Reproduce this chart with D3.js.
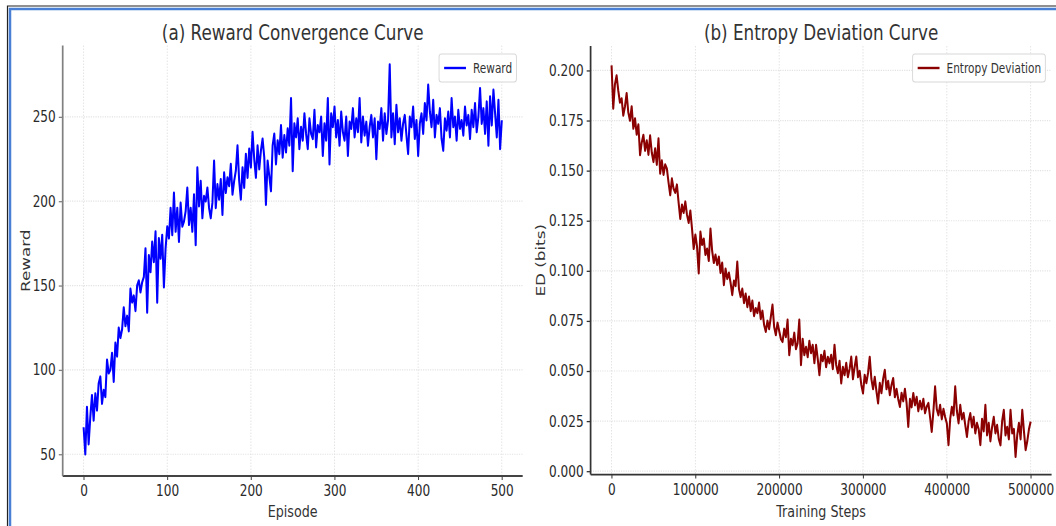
<!DOCTYPE html>
<html>
<head>
<meta charset="utf-8">
<script src="https://cdn.jsdelivr.net/npm/d3@7"></script>
<style>
  body { margin: 0; background: #fff; }
  svg { display: block; }
</style>
</head>
<body>
<div id="chart"></div>
<script>
const episodeStep = 2;
const rewardValues = [
    66, 50, 78, 56, 72, 85, 70, 86, 76, 92,
    96, 80, 88, 84, 106, 98, 100, 110, 93, 116,
    108, 125, 119, 124, 137, 126, 132, 123, 148, 140,
    144, 135, 150, 153, 146, 152, 155, 172, 134, 168,
    158, 176, 164, 182, 140, 178, 166, 180, 149, 172,
    185, 178, 196, 180, 205, 182, 196, 176, 199, 185,
    188, 194, 208, 186, 196, 182, 204, 174, 220, 197,
    212, 190, 203, 200, 208, 196, 190, 199, 224, 196,
    210, 201, 213, 192, 217, 205, 214, 209, 222, 204,
    212, 218, 233, 212, 201, 220, 208, 228, 214, 231,
    220, 241, 225, 214, 233, 219, 230, 237, 226, 198,
    224, 215, 206, 233, 240, 222, 236, 228, 245, 226,
    239, 229, 243, 233, 261, 218, 246, 238, 249, 231,
    244, 236, 252, 240, 231, 249, 240, 237, 254, 232,
    245, 241, 250, 227, 246, 236, 261, 222, 252, 244,
    256, 238, 248, 233, 253, 241, 236, 250, 227, 247,
    243, 255, 238, 249, 241, 261, 235, 250, 239, 247,
    233, 244, 251, 238, 249, 225, 247, 243, 255, 236,
    252, 240, 248, 281, 238, 252, 234, 257, 241, 249,
    236, 246, 251, 239, 228, 250, 244, 256, 237, 248,
    227, 246, 252, 240, 258, 248, 269, 253, 244, 260,
    238, 251, 246, 255, 237, 230, 249, 242, 253, 238,
    261, 244, 250, 236, 254, 243, 248, 239, 256, 245,
    251, 237, 254, 244, 258, 241, 250, 267, 246, 255,
    240, 259, 233, 262, 245, 266, 252, 238, 260, 231,
    248
];

const stepSize = 2000;
const entropyValues = [
    0.2025, 0.181, 0.193, 0.1975, 0.190, 0.184, 0.186, 0.1775, 0.182, 0.1886,
    0.179, 0.175, 0.182, 0.171, 0.176, 0.168, 0.173, 0.1578, 0.164, 0.1678,
    0.160, 0.165, 0.158, 0.1675, 0.159, 0.1544, 0.161, 0.153, 0.166, 0.1486,
    0.155, 0.148, 0.153, 0.151, 0.144, 0.1378, 0.146, 0.141, 0.139, 0.143,
    0.134, 0.126, 0.133, 0.129, 0.1345, 0.128, 0.124, 0.130, 0.121, 0.111,
    0.118, 0.112, 0.0988, 0.1195, 0.113, 0.116, 0.108, 0.111, 0.105, 0.121,
    0.110, 0.104, 0.108, 0.103, 0.107, 0.099, 0.104, 0.093, 0.101, 0.096,
    0.099, 0.094, 0.088, 0.095, 0.0925, 0.1045, 0.091, 0.087, 0.091, 0.084,
    0.0885, 0.082, 0.087, 0.080, 0.085, 0.0775, 0.0813, 0.079, 0.084, 0.076,
    0.080, 0.073, 0.0696, 0.075, 0.071, 0.077, 0.083, 0.072, 0.068, 0.074,
    0.070, 0.066, 0.0646, 0.071, 0.067, 0.0755, 0.058, 0.066, 0.063, 0.069,
    0.061, 0.064, 0.0755, 0.053, 0.066, 0.058, 0.062, 0.057, 0.065, 0.059,
    0.063, 0.054, 0.063, 0.056, 0.048, 0.058, 0.055, 0.060, 0.052, 0.057,
    0.054, 0.058, 0.051, 0.063, 0.053, 0.049, 0.055, 0.0439, 0.052, 0.048,
    0.054, 0.047, 0.051, 0.0571, 0.046, 0.052, 0.0571, 0.047, 0.050, 0.043,
    0.0389, 0.048, 0.044, 0.049, 0.057, 0.046, 0.041, 0.047, 0.040, 0.0339,
    0.044, 0.039, 0.046, 0.0505, 0.041, 0.045, 0.038, 0.043, 0.0464, 0.037,
    0.041, 0.036, 0.0322, 0.039, 0.035, 0.041, 0.034, 0.0222, 0.036, 0.032,
    0.0389, 0.033, 0.037, 0.030, 0.035, 0.031, 0.036, 0.029, 0.0322, 0.034,
    0.027, 0.0197, 0.030, 0.0422, 0.031, 0.028, 0.033, 0.026, 0.031, 0.027,
    0.0239, 0.0131, 0.026, 0.032, 0.028, 0.0422, 0.030, 0.024, 0.033, 0.026,
    0.029, 0.023, 0.0172, 0.025, 0.0289, 0.022, 0.027, 0.019, 0.024, 0.021,
    0.0131, 0.026, 0.020, 0.033, 0.018, 0.024, 0.015, 0.022, 0.027, 0.019,
    0.023, 0.016, 0.013, 0.025, 0.0305, 0.018, 0.022, 0.016, 0.0305, 0.019,
    0.021, 0.0072, 0.018, 0.024, 0.016, 0.0305, 0.020, 0.0106, 0.015, 0.021,
    0.0247
];

const rewardTicksX = [0, 100, 200, 300, 400, 500];
const rewardTicksY = [50, 100, 150, 200, 250];
const entropyTicksX = [0, 100000, 200000, 300000, 400000, 500000];
const entropyTicksY = [0, 0.025, 0.05, 0.075, 0.1, 0.125, 0.15, 0.175, 0.2];

const rewardData = rewardValues.map((v, i) => ({ x: i * episodeStep, y: v }));
const entropyData = entropyValues.map((v, i) => ({ x: i * stepSize, y: v }));

const width = 1056;
const height = 526;
const sx = 0.78; // picture is squeezed sideways
const font = "'DejaVu Sans', sans-serif";

const svg = d3.select('#chart')
    .append('svg')
    .attr('width', width)
    .attr('height', height);

svg.append('rect').attr('width', width).attr('height', height).attr('fill', '#fff');

// window frame
svg.append('path')
    .attr('d', `M7.5,${height} V6 H${width}`)
    .attr('fill', 'none')
    .attr('stroke', '#222')
    .attr('stroke-width', 1.2);
svg.append('path')
    .attr('d', `M10,${height} V9 H${width}`)
    .attr('fill', 'none')
    .attr('stroke', '#4a7fd6')
    .attr('stroke-width', 2.5);

const inner = svg.append('g').attr('transform', `scale(${sx},1)`);

function panel(opts) {
    const g = inner.append('g');
    const x = d3.scaleLinear().domain(opts.xDomain).range([opts.left, opts.right]);
    const y = d3.scaleLinear().domain(opts.yDomain).range([opts.bottom, opts.top]);

    // grid
    g.append('g').selectAll('line').data(opts.xTicks).enter().append('line')
        .attr('x1', d => x(d)).attr('x2', d => x(d))
        .attr('y1', opts.top).attr('y2', opts.bottom)
        .attr('stroke', '#e2e2e2').attr('stroke-width', 1.2).attr('stroke-dasharray', '1.5,1.5');
    g.append('g').selectAll('line').data(opts.yTicks).enter().append('line')
        .attr('x1', opts.left).attr('x2', opts.right)
        .attr('y1', d => y(d)).attr('y2', d => y(d))
        .attr('stroke', '#e2e2e2').attr('stroke-width', 1.2).attr('stroke-dasharray', '1.5,1.5');

    const line = d3.line().x(d => x(d.x)).y(d => y(d.y));
    g.append('path')
        .datum(opts.data)
        .attr('d', line)
        .attr('fill', 'none')
        .attr('stroke', opts.color)
        .attr('stroke-width', 2.6)
        .attr('stroke-linejoin', 'round');

    const xAxis = g.append('g')
        .attr('transform', `translate(0,${opts.bottom})`)
        .call(d3.axisBottom(x).tickValues(opts.xTicks).tickFormat(opts.xFormat).tickSize(4).tickPadding(5));
    const yAxis = g.append('g')
        .attr('transform', `translate(${opts.left},0)`)
        .call(d3.axisLeft(y).tickValues(opts.yTicks).tickFormat(opts.yFormat).tickSize(5).tickPadding(4));

    [xAxis, yAxis].forEach(a => {
        a.selectAll('text').attr('font-family', font).attr('font-size', 15.5).attr('fill', '#2a2a2a');
    });
    xAxis.select('.domain').attr('stroke', opts.xSpine).attr('stroke-width', 1.8)
        .attr('d', `M${opts.left},0H${opts.right}`);
    xAxis.selectAll('.tick line').attr('stroke', opts.xSpine).attr('stroke-width', 1.3);
    yAxis.select('.domain').attr('stroke', opts.ySpine).attr('stroke-width', 2.2)
        .attr('d', `M0,${opts.top}V${opts.bottom}`);
    yAxis.selectAll('.tick line').attr('stroke', opts.ySpine).attr('stroke-width', 1.3);

    const cx = (opts.left + opts.right) / 2;
    g.append('text')
        .attr('x', cx).attr('y', 40)
        .attr('text-anchor', 'middle')
        .attr('font-family', font).attr('font-size', 21.5).attr('fill', '#333')
        .text(opts.title);
    g.append('text')
        .attr('x', cx).attr('y', 517)
        .attr('text-anchor', 'middle')
        .attr('font-family', font).attr('font-size', 16.3).attr('fill', '#333')
        .text(opts.xLabel);
    g.append('text')
        .attr('transform', `translate(${opts.yLabelX},${(opts.top + opts.bottom) / 2}) rotate(-90)`)
        .attr('text-anchor', 'middle')
        .attr('font-family', font).attr('font-size', 16.8).attr('fill', '#333')
        .text(opts.yLabel);

    // legend, upper right
    const legend = g.append('g');
    const box = legend.append('rect');
    const label = legend.append('text')
        .attr('font-family', font).attr('font-size', 13.5).attr('fill', '#333')
        .text(opts.legend);
    const tw = label.node().getComputedTextLength();
    const bw = 6.5 + 28 + 9 + tw + 5.5;
    const bx = opts.right - 8 - bw;
    const by = 54;
    box.attr('x', bx).attr('y', by).attr('width', bw).attr('height', 28)
        .attr('rx', 3).attr('fill', '#fff').attr('fill-opacity', 0.85)
        .attr('stroke', '#d8d8d8').attr('stroke-width', 1.2);
    legend.append('line')
        .attr('x1', bx + 6.5).attr('x2', bx + 34.5)
        .attr('y1', by + 14).attr('y2', by + 14)
        .attr('stroke', opts.color).attr('stroke-width', 2.4);
    label.attr('x', bx + 43.5).attr('y', by + 19);
}

panel({
    data: rewardData,
    color: '#0000ff',
    left: 62.7 / sx, right: 522.7 / sx, top: 45.5, bottom: 476,
    xDomain: [-25, 525], yDomain: [37.1, 292.3],
    xTicks: rewardTicksX, yTicks: rewardTicksY,
    xFormat: d3.format('d'), yFormat: d3.format('d'),
    xSpine: '#444', ySpine: '#808080',
    title: '(a) Reward Convergence Curve',
    xLabel: 'Episode', yLabel: 'Reward',
    yLabelX: 30 / sx,
    legend: 'Reward'
});

panel({
    data: entropyData,
    color: '#8b0000',
    left: 590.6 / sx, right: 1051.6 / sx, top: 46, bottom: 474.6,
    xDomain: [-25000, 525000], yDomain: [-0.0017, 0.2122],
    xTicks: entropyTicksX, yTicks: entropyTicksY,
    xFormat: d3.format('d'), yFormat: d3.format('.3f'),
    xSpine: '#333', ySpine: '#333',
    title: '(b) Entropy Deviation Curve',
    xLabel: 'Training Steps', yLabel: 'ED (bits)',
    yLabelX: 545 / sx,
    legend: 'Entropy Deviation'
});
</script>
</body>
</html>
